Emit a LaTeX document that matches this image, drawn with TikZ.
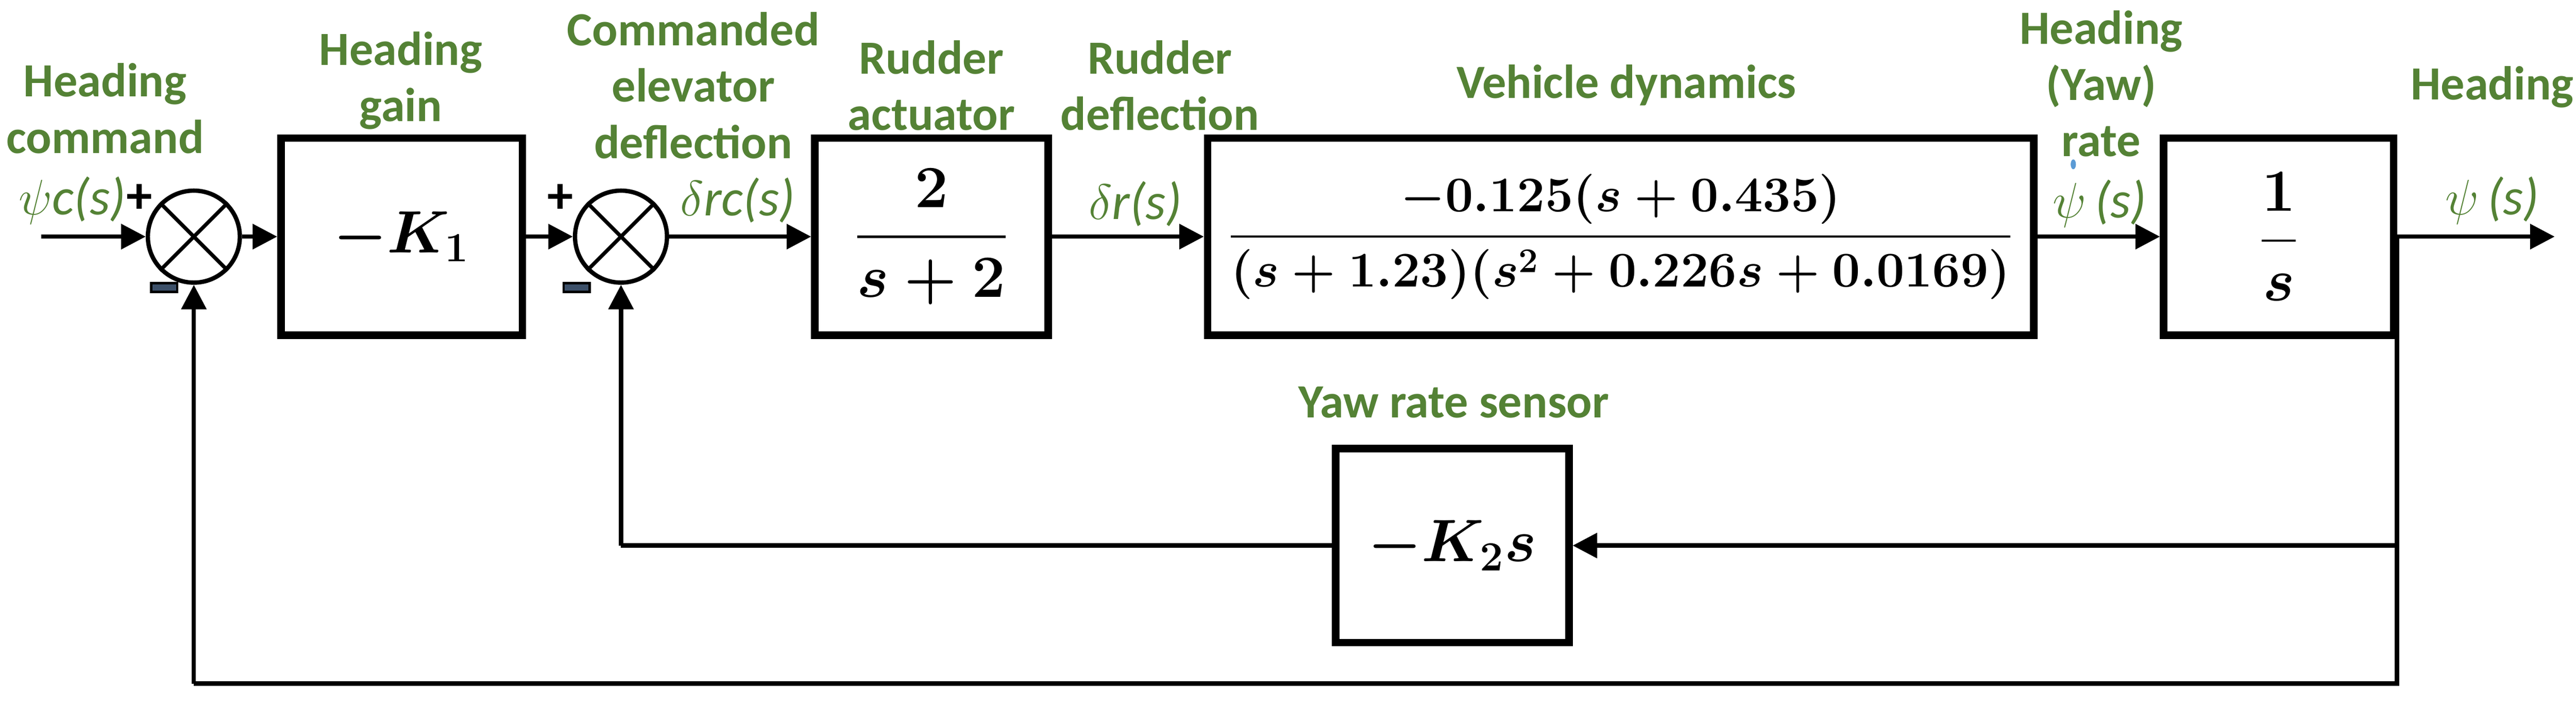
\documentclass[tikz,border=0pt]{standalone}
\usepackage{amsmath}
\usepackage{fontspec}
\setmainfont{Carlito}
\usetikzlibrary{arrows.meta}
\definecolor{lg}{RGB}{84,130,53}
\definecolor{mb}{RGB}{60,80,105}
\definecolor{bd}{RGB}{91,155,213}
\begin{document}
\begin{tikzpicture}[x=0.02cm,y=-0.02cm,
  blk/.style={draw,line width=2.6pt,minimum height=2.4cm,inner sep=0pt},
  sum/.style={draw,circle,line width=1.5pt,minimum size=1.12cm,inner sep=0pt},
  ln/.style={line width=1.5pt},
  ar/.style={ln,-{Triangle[length=8.5pt,width=8.5pt]}},
  lab/.style={text=lg,font=\fontsize{16.5}{19.5}\selectfont\bfseries,align=center},
  sig/.style={text=lg,font=\fontsize{18}{20}\selectfont\itshape},
  mns/.style={fill=mb,minimum width=9pt,minimum height=3pt,inner sep=0pt,draw=black,line width=0.8pt}]
\useasboundingbox (0,0) rectangle (1568,430);
% sums
\node[sum] (s1) at (118,144) {};
\node[sum] (s2) at (378,144) {};
\foreach \s in {s1,s2}{
  \draw[line width=1.3pt] (\s.45) -- (\s.225) (\s.135) -- (\s.315);}
% blocks
\node[blk,minimum width=2.94cm] (k1) at (244.5,144) {\fontsize{22}{26}\selectfont$\boldsymbol{-K_1}$};
\node[blk,minimum width=2.84cm] (act) at (567,144) {\fontsize{21}{25}\selectfont$\boldsymbol{\dfrac{2}{s+2}}$};
\node[blk,minimum width=10.06cm] (veh) at (986.5,144) {\fontsize{16.8}{20}\selectfont$\boldsymbol{\dfrac{-0.125(s+0.435)}{(s+1.23)(s^2+0.226s+0.0169)}}$};
\node[blk,minimum width=2.8cm] (int) at (1387,144) {\fontsize{21}{25}\selectfont$\boldsymbol{\dfrac{1}{s}}$};
\node[blk,minimum width=2.84cm,minimum height=2.36cm] (k2) at (884,332) {\fontsize{22}{26}\selectfont$\boldsymbol{-K_2s}$};
% coordinates
\coordinate (in) at (25,144);
\coordinate (out) at (1555,144);
\coordinate (br) at (1459,144);
\coordinate (br2) at (1459,332);
\coordinate (bot) at (1459,416);
\coordinate (botl) at (118,416);
\coordinate (fb2) at (378,332);
% connectors
\draw[ar] (in) -- (s1);
\draw[ar] (s1) -- (k1);
\draw[ar] (k1) -- (s2);
\draw[ar] (s2) -- (act);
\draw[ar] (act) -- (veh);
\draw[ar] (veh) -- (int);
\draw[ar] (int) -- (out);
\draw[ln] (br) -- (bot) -- (botl);
\draw[ar] (botl) -- (s1);
\draw[ar] (br2) -- (k2);
\draw[ln] (k2) -- (fb2);
\draw[ar] (fb2) -- (s2);
% signs
\node[font=\fontsize{18}{18}\selectfont\bfseries] (p1) at (85,121) {+};
\node[font=\fontsize{18}{18}\selectfont\bfseries] (p2) at (341,121) {+};
\node[mns] (m1) at (100,175) {};
\node[mns] (m2) at (351,175) {};
% labels
\node[lab] (l1) at (64,66) {Heading\\command};
\node[lab] (l2) at (244,49) {Heading\\gain};
\node[lab] (l3) at (422,52) {Commanded\\elevator\\deflection};
\node[lab] (l4) at (567,52) {Rudder\\actuator};
\node[lab] (l5) at (706,52) {Rudder\\deflection};
\node[lab] (l6) at (990,52) {Vehicle dynamics};
\node[lab] (l7) at (1279,51) {Heading\\(Yaw)\\rate};
\node[lab] (l8) at (1517,53) {Heading};
\node[lab] (l9) at (885,245) {Yaw rate sensor};
\node[sig] (g1) at (44,122) {$\psi$c(s)};
\node[sig] (g2) at (449,122) {$\delta$rc(s)};
\node[sig] (g3) at (691,124) {$\delta$r(s)};
\node[sig] (g4) at (1278,124) {$\psi$\,(s)};
\fill[bd] (1262,100) ellipse (1.6 and 3);
\node[sig] (g5) at (1517,122) {$\psi$\,(s)};
\end{tikzpicture}
\end{document}
